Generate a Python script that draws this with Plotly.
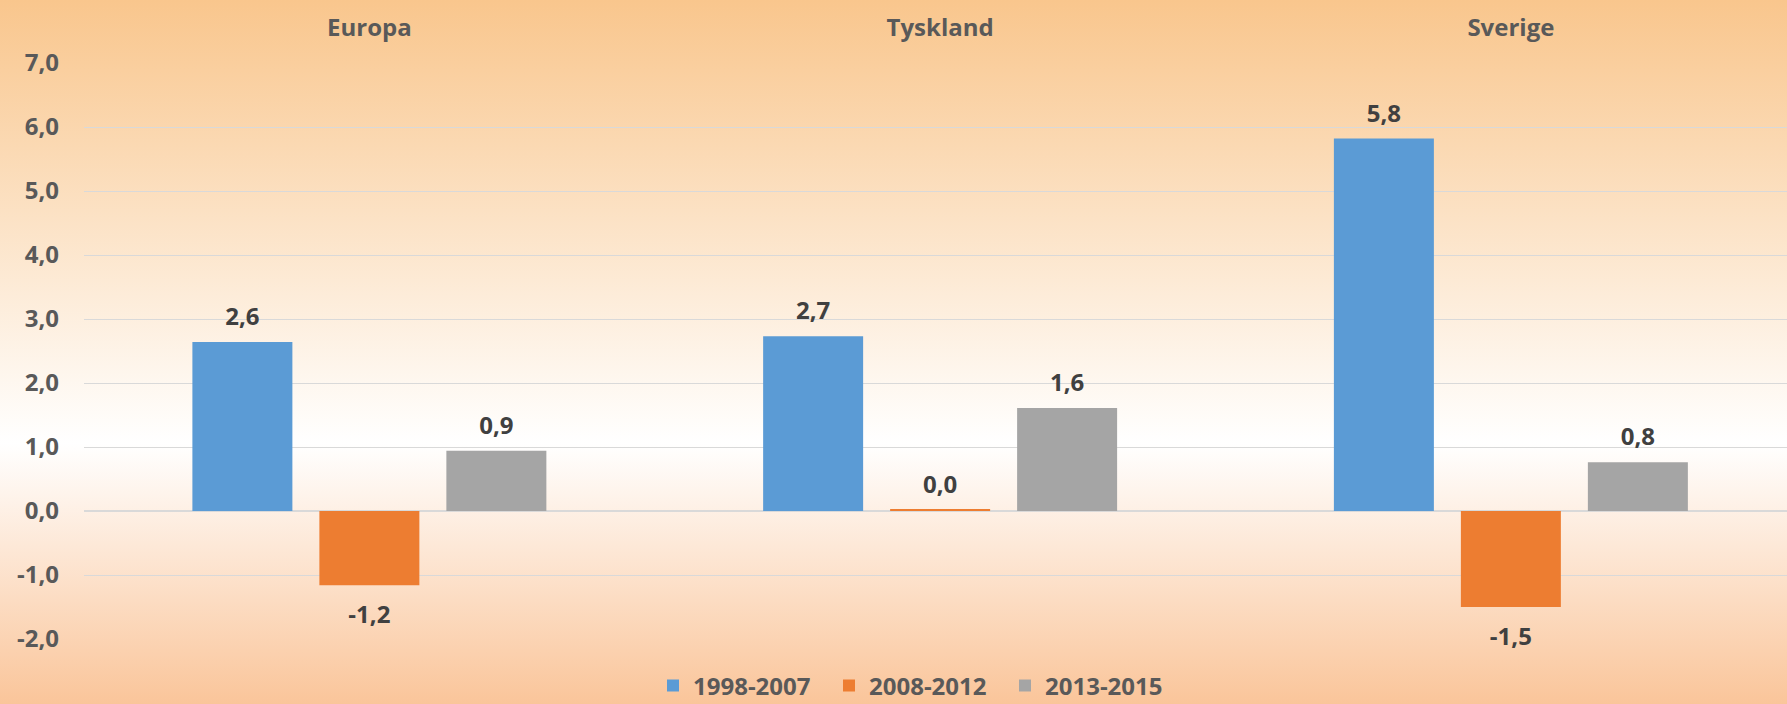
import plotly.graph_objects as go

# ---- data ----
categories = ["Europa", "Tyskland", "Sverige"]
series_names = ["1998-2007", "2008-2012", "2013-2015"]
values_1998_2007 = [2.64, 2.73, 5.82]
values_2008_2012 = [-1.16, 0.02, -1.50]
values_2013_2015 = [0.94, 1.61, 0.76]
y_ticks = [7, 6, 5, 4, 3, 2, 1, 0, -1, -2]
y_tick_labels = ["7,0", "6,0", "5,0", "4,0", "3,0", "2,0", "1,0", "0,0", "-1,0", "-2,0"]

series_values = [values_1998_2007, values_2008_2012, values_2013_2015]
colors = ["#5B9BD5", "#ED7D31", "#A5A5A5"]

W, H = 1787, 704
ML, MR, MT, MB = 84, 0, 63, 65
plot_w = W - ML - MR
plot_h = H - MT - MB
CAT_PX = 570.75
BARGAP = 0.3325

FONT = "Open Sans"
TICK_COLOR = "#595959"

fig = go.Figure()
for name, vals, col in zip(series_names, series_values, colors):
    fig.add_trace(go.Bar(
        x=categories, y=vals, name=name,
        marker=dict(color=col, line=dict(width=0)),
        hoverinfo="x+y+name",
    ))

# data labels, grouped like the bars
for name, vals in zip(series_names, series_values):
    fig.add_trace(go.Scatter(
        x=categories, y=vals, name=name, mode="markers+text",
        orientation="v",
        text=[f"{v:.1f}".replace(".", ",") for v in vals],
        textposition=["top center" if v >= 0 else "bottom center" for v in vals],
        textfont=dict(family=FONT, size=24, color="#404040", weight="bold"),
        marker=dict(size=[16 if v >= 0 else 30 for v in vals], opacity=0),
        showlegend=False, hoverinfo="skip", cliponaxis=False,
    ))

gradient_svg = (
    "data:image/svg+xml;utf8,"
    "<svg xmlns='http://www.w3.org/2000/svg' width='100' height='100' preserveAspectRatio='none'>"
    "<defs><linearGradient id='g' x1='0' y1='0' x2='0' y2='1'>"
    "<stop offset='0' stop-color='%23F9C68D'/>"
    "<stop offset='0.63' stop-color='%23FFFFFF'/>"
    "<stop offset='1' stop-color='%23FAC59A'/>"
    "</linearGradient></defs>"
    "<rect width='100' height='100' fill='url(%23g)'/></svg>"
)

fig.update_layout(
    width=W, height=H,
    margin=dict(l=ML, r=MR, t=MT, b=MB, pad=0, autoexpand=False),
    barmode="group",
    bargap=BARGAP,
    bargroupgap=0.2126,
    scattermode="group",
    scattergap=BARGAP,
    paper_bgcolor="#FAC59A",
    plot_bgcolor="rgba(0,0,0,0)",
    font=dict(family=FONT, color=TICK_COLOR),
    images=[dict(
        source=gradient_svg, xref="paper", yref="paper",
        x=-ML / plot_w, y=1 + MT / plot_h,
        sizex=W / plot_w, sizey=H / plot_h,
        xanchor="left", yanchor="top", sizing="stretch", layer="below",
    )],
    showlegend=True,
    legend=dict(
        orientation="h", x=(917 - ML) / plot_w, xanchor="center",
        y=-(686 - (H - MB)) / plot_h, yanchor="middle",
        font=dict(family=FONT, size=24, color=TICK_COLOR, weight="bold"),
        bgcolor="rgba(0,0,0,0)", itemwidth=30, traceorder="normal",
        entrywidth=131, entrywidthmode="pixels",
    ),
    xaxis=dict(
        side="top", range=[-0.5, -0.5 + plot_w / CAT_PX],
        showgrid=False, zeroline=False, showline=False, ticks="",
        tickfont=dict(family=FONT, size=24, color=TICK_COLOR, weight="bold"),
        ticklabelstandoff=21,
    ),
    yaxis=dict(
        range=[-2, 7], tickvals=y_ticks, ticktext=y_tick_labels,
        showgrid=True, gridcolor="#D9D9D9", gridwidth=1.3,
        zeroline=True, zerolinecolor="#D9D9D9", zerolinewidth=2,
        showline=False, ticks="",
        tickfont=dict(family=FONT, size=24, color=TICK_COLOR, weight="bold"),
        ticklabelstandoff=24,
    ),
)

fig.write_html(
    "out.html",
    config={"displayModeBar": False},
    post_script="document.body.style.margin='0px';",
)
